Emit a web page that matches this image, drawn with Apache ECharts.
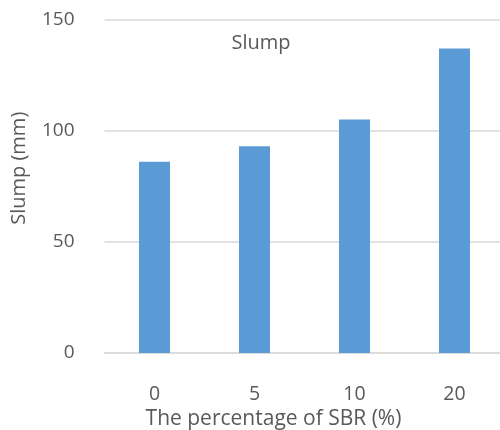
<!DOCTYPE html>
<html><head><meta charset="utf-8">
<script src="https://cdn.jsdelivr.net/npm/echarts@6/dist/echarts.min.js"></script>
<style>html,body{margin:0;padding:0;background:#fff}#c{width:500px;height:430px}</style>
</head><body><div id="c"></div>
<script>
const categories = ['0', '5', '10', '20'];
const slumpValues = [86, 93, 105, 137];
const yTicks = [0, 50, 100, 150];

const chart = echarts.init(document.getElementById('c'), null, {renderer: 'canvas'});
const font = '"Open Sans", "DejaVu Sans", sans-serif';
chart.setOption({
  animation: false,
  title: {
    text: 'Slump', left: 256, top: 28, textAlign: 'center',
    textStyle: {fontFamily: font, fontWeight: 'normal', fontSize: 20, color: '#595959'}
  },
  grid: {left: 104.5, width: 400, top: 19.5, height: 333.5, outerBoundsMode: 'none', containLabel: false},
  xAxis: {
    type: 'category', data: categories,
    name: 'The percentage of SBR (%)', nameLocation: 'middle', nameGap: 55,
    nameTextStyle: {fontFamily: font, fontSize: 21, color: '#595959', padding: [0, 62, 0, 0]},
    axisLine: {lineStyle: {color: '#d9d9d9', width: 1.5}},
    axisTick: {show: false},
    axisLabel: {fontFamily: font, fontSize: 19.5, color: '#595959', margin: 31}
  },
  yAxis: {
    type: 'value', min: yTicks[0], max: yTicks[yTicks.length - 1], interval: 50,
    name: 'Slump (mm)', nameLocation: 'middle', nameGap: 75,
    nameTextStyle: {fontFamily: font, fontSize: 20, color: '#595959', padding: [0, 0, 0, 36]},
    axisLine: {show: false}, axisTick: {show: false},
    axisLabel: {fontFamily: font, fontSize: 19, color: '#595959', margin: 30},
    splitLine: {lineStyle: {color: '#d9d9d9', width: 1.5}}
  },
  series: [{
    type: 'bar', data: slumpValues, barWidth: 31,
    itemStyle: {color: '#5b9bd5'}
  }]
});
</script></body></html>
